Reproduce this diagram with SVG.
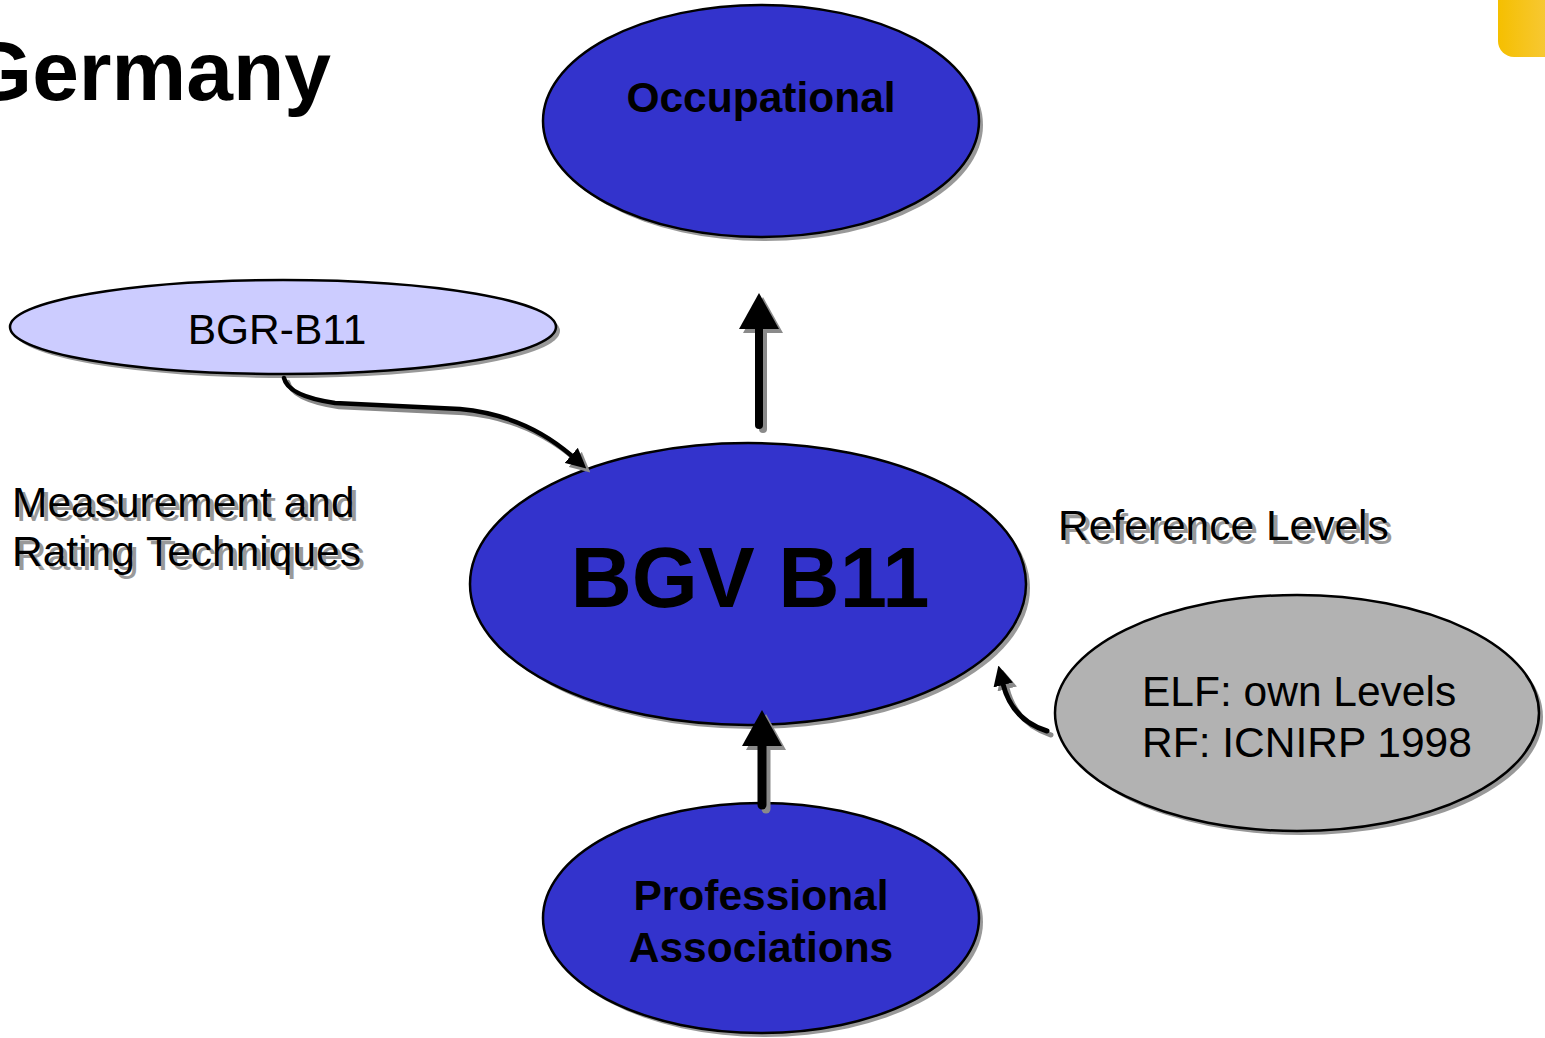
<svg xmlns="http://www.w3.org/2000/svg" width="1545" height="1038" viewBox="0 0 1545 1038">
<style>
.txt{font-family:"Liberation Sans",Arial,sans-serif;font-size:42.5px;fill:#000}
.b{font-weight:bold}
.sh{fill:#999}
.node{stroke:#000;stroke-width:2.5}
.nsh{fill:#999;stroke:none}
.blue{fill:#3333cc}
.conn{fill:none;stroke:#000}
.connsh{fill:none;stroke:#8a8a8a}
</style>
<defs>
<linearGradient id="yg" x1="0" y1="0" x2="1" y2="0">
<stop offset="0" stop-color="#f5bf00"/>
<stop offset="1" stop-color="#f8d060"/>
</linearGradient>
<marker id="bigK" markerUnits="userSpaceOnUse" viewBox="0 0 36 40" markerWidth="36" markerHeight="40" refX="1" refY="20" orient="auto"><path d="M0 0L36 20L0 40z" fill="#000"/></marker>
<marker id="bigG" markerUnits="userSpaceOnUse" viewBox="0 0 36 40" markerWidth="36" markerHeight="40" refX="1" refY="20" orient="auto"><path d="M0 0L36 20L0 40z" fill="#8a8a8a"/></marker>
<marker id="smK" markerUnits="userSpaceOnUse" viewBox="0 0 20 20" markerWidth="20" markerHeight="20" refX="1" refY="10" orient="auto"><path d="M0 0L20 10L0 20z" fill="#000"/></marker>
<marker id="smG" markerUnits="userSpaceOnUse" viewBox="0 0 20 20" markerWidth="20" markerHeight="20" refX="1" refY="10" orient="auto"><path d="M0 0L20 10L0 20z" fill="#8a8a8a"/></marker>
</defs>
<rect width="1545" height="1038" fill="#fff"/>
<rect x="1498" y="-30" width="90" height="87" rx="16" fill="url(#yg)"/>
<g id="title"><text class="txt b" x="331" y="100" text-anchor="end" style="font-size:84px">Germany</text></g>

<g id="occupational">
<ellipse class="nsh" cx="765" cy="125" rx="218" ry="116"/>
<ellipse class="node blue" cx="761" cy="121" rx="218" ry="116"/>
<text class="txt b" x="761" y="112" text-anchor="middle">Occupational</text>
</g>
<g id="bgr-b11">
<ellipse class="nsh" cx="287" cy="331" rx="273" ry="47"/>
<ellipse class="node" cx="283" cy="327" rx="273" ry="47" fill="#ccccff"/>
<text class="txt" x="277" y="344" text-anchor="middle">BGR-B11</text>
</g>
<g id="bgv-b11">
<ellipse class="nsh" cx="752" cy="588" rx="278" ry="141"/>
<ellipse class="node blue" cx="748" cy="584" rx="278" ry="141"/>
<text class="txt b" x="750" y="607" text-anchor="middle" style="font-size:85px">BGV B11</text>
</g>
<g id="elf">
<ellipse class="nsh" cx="1301" cy="717" rx="242" ry="118"/>
<ellipse class="node" cx="1297" cy="713" rx="242" ry="118" fill="#b2b2b2"/>
<text class="txt" x="1142" y="706">ELF: own Levels</text>
<text class="txt" x="1142" y="757">RF: ICNIRP 1998</text>
</g>
<g id="professional">
<ellipse class="nsh" cx="765" cy="922" rx="218" ry="115"/>
<ellipse class="node blue" cx="761" cy="918" rx="218" ry="115"/>
<text class="txt b" x="761" y="910" text-anchor="middle">Professional</text>
<text class="txt b" x="761" y="962" text-anchor="middle">Associations</text>
</g>
<g id="measurement">
<text class="txt sh" x="16" y="521">Measurement and</text>
<text class="txt sh" x="16" y="570">Rating Techniques</text>
<text class="txt" x="12" y="517">Measurement and</text>
<text class="txt" x="12" y="566">Rating Techniques</text>
</g>
<g id="reference-levels">
<text class="txt sh" x="1062" y="544">Reference Levels</text>
<text class="txt" x="1058" y="540">Reference Levels</text>
</g>

<g id="connectors">
<g transform="translate(4,4)">
<path class="connsh" d="M759 425V328" stroke-width="8" stroke-linecap="round" marker-end="url(#bigG)"/>
<path class="connsh" d="M762 805V745" stroke-width="9" stroke-linecap="round" marker-end="url(#bigG)"/>
<path class="connsh" d="M284 378Q288 396 335 403L460 409Q525 415 572 456" stroke-width="4.5" stroke-linecap="round" marker-end="url(#smG)"/>
<path class="connsh" d="M1047 731Q1012 720 1003 684" stroke-width="5" stroke-linecap="round" marker-end="url(#smG)"/>
</g>
<path class="conn" d="M759 425V328" stroke-width="8" stroke-linecap="round" marker-end="url(#bigK)"/>
<path class="conn" d="M762 805V745" stroke-width="9" stroke-linecap="round" marker-end="url(#bigK)"/>
<path class="conn" d="M284 378Q288 396 335 403L460 409Q525 415 572 456" stroke-width="4.5" stroke-linecap="round" marker-end="url(#smK)"/>
<path class="conn" d="M1047 731Q1012 720 1003 684" stroke-width="5" stroke-linecap="round" marker-end="url(#smK)"/>
</g>
</svg>
